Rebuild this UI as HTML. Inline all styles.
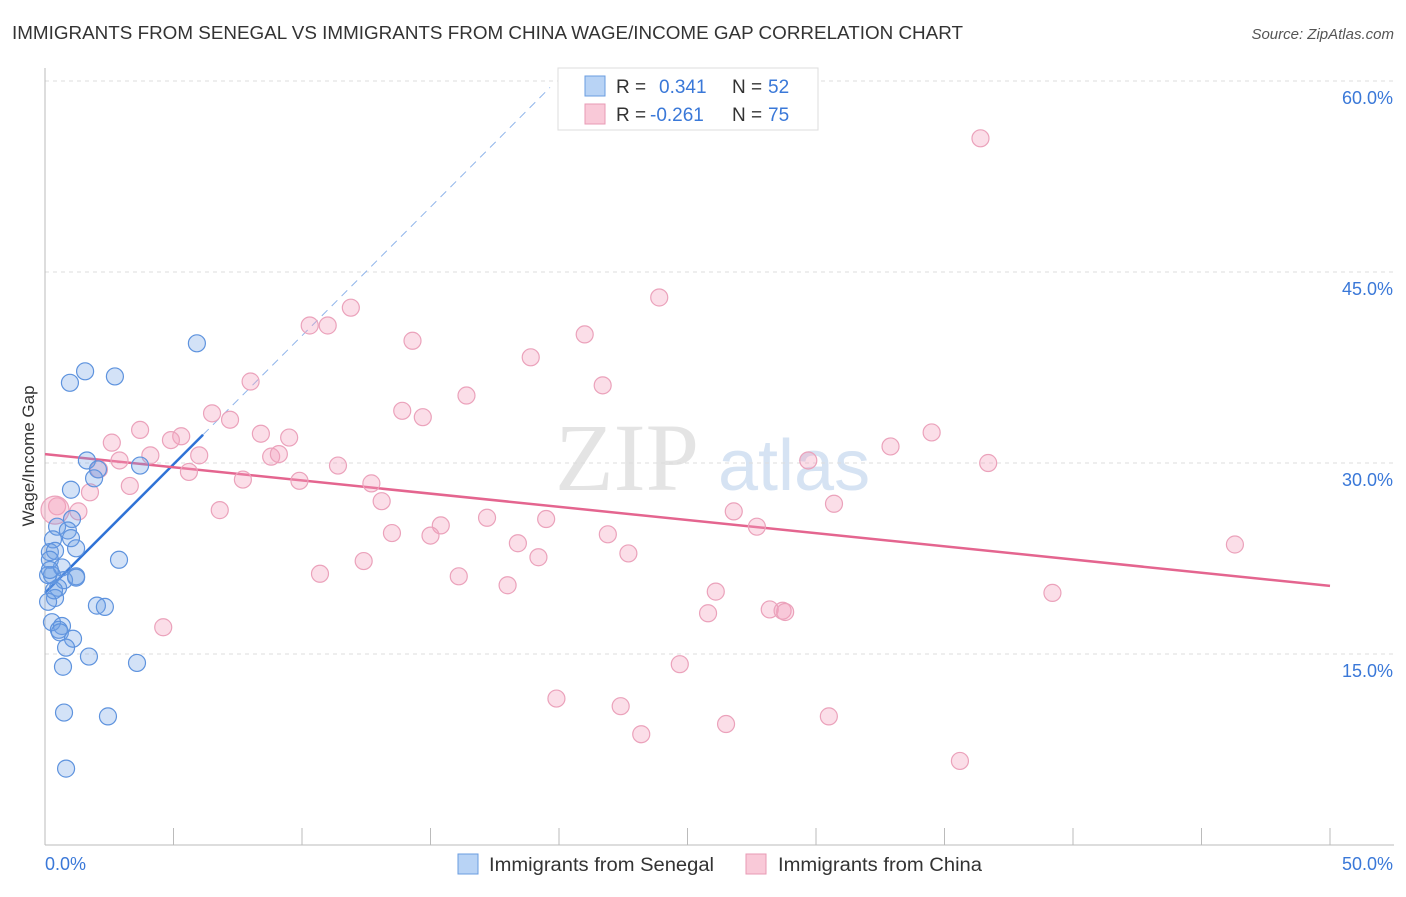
<!DOCTYPE html>
<html><head><meta charset="utf-8">
<style>
html,body{margin:0;padding:0;background:#fff;}
body{width:1406px;height:892px;overflow:hidden;font-family:"Liberation Sans",sans-serif;}
</style></head>
<body>
<svg id="chart" width="1406" height="892" xmlns="http://www.w3.org/2000/svg" font-family="Liberation Sans, sans-serif">
<text x="12" y="39" font-size="18" fill="#333" textLength="951" lengthAdjust="spacingAndGlyphs">IMMIGRANTS FROM SENEGAL VS IMMIGRANTS FROM CHINA WAGE/INCOME GAP CORRELATION CHART</text>
<text x="1394" y="39" font-size="15" fill="#555" text-anchor="end" font-style="italic">Source: ZipAtlas.com</text>
<text x="555" y="490" font-size="96" fill="#e4e4e4" font-family="Liberation Serif, serif">ZIP</text>
<text x="718" y="490" font-size="72" fill="#d6e3f3">atlas</text>
<text transform="translate(34,456) rotate(-90)" font-size="17" fill="#333" text-anchor="middle">Wage/Income Gap</text>
<g id="grid"></g>
<g id="axes"></g>
<g id="lines"></g>
<g id="points"></g>
<g>
 <rect x="558" y="68" width="260" height="62" fill="#fff" stroke="#ddd"/>
 <rect x="585" y="76" width="20" height="20" fill="#b8d3f5" stroke="#6a9de0"/>
 <rect x="585" y="104" width="20" height="20" fill="#f9c9d8" stroke="#e89ab4"/>
 <text x="616" y="93" font-size="19" fill="#333">R = </text><text x="659" y="93" font-size="19" fill="#3a78d8">0.341</text>
 <text x="732" y="93" font-size="19" fill="#333">N = </text><text x="768" y="93" font-size="19" fill="#3a78d8">52</text>
 <text x="616" y="121" font-size="19" fill="#333">R = </text><text x="650" y="121" font-size="19" fill="#3a78d8">-0.261</text>
 <text x="732" y="121" font-size="19" fill="#333">N = </text><text x="768" y="121" font-size="19" fill="#3a78d8">75</text>
</g>
<g>
 <rect x="458" y="854" width="20" height="20" fill="#b8d3f5" stroke="#6a9de0"/>
 <text x="489" y="871" font-size="19" fill="#333" textLength="225" lengthAdjust="spacingAndGlyphs">Immigrants from Senegal</text>
 <rect x="746" y="854" width="20" height="20" fill="#f9c9d8" stroke="#e89ab4"/>
 <text x="778" y="871" font-size="19" fill="#333" textLength="204" lengthAdjust="spacingAndGlyphs">Immigrants from China</text>
</g>
</svg>
<script>
const yTicks=[15,30,45,60];
const yTickLabels=["15.0%","30.0%","45.0%","60.0%"];
const xTickLabels=["0.0%","50.0%"];
const senegalX=[5.91,1.56,2.72,0.97,1.63,3.70,2.06,1.91,1.01,1.05,0.47,0.89,1.01,0.31,1.21,0.19,0.39,0.19,2.88,0.66,0.27,1.21,0.74,1.21,0.51,0.39,0.12,2.02,2.33,0.27,0.66,0.54,0.58,1.09,0.82,1.71,3.58,0.70,0.74,2.45,0.82,0.12,0.19,0.35];
const senegalY=[39.4,37.2,36.8,36.3,30.2,29.8,29.5,28.8,27.9,25.6,25.0,24.7,24.1,24.0,23.3,23.0,23.1,22.4,22.4,21.8,21.2,21.1,20.8,21.0,20.2,19.4,19.1,18.8,18.7,17.5,17.2,16.9,16.7,16.2,15.5,14.8,14.3,14.0,10.4,10.1,6.0,21.2,21.6,20.0];
const chinaX=[36.4,23.9,11.9,10.3,11.0,14.3,21.0,18.9,8.0,21.7,16.4,13.9,14.7,6.5,7.2,3.7,5.3,4.9,8.4,9.5,2.6,34.5,32.9,2.9,4.1,6.0,8.8,9.1,11.4,29.7,36.7,5.6,2.1,3.3,7.7,9.9,12.7,1.75,13.1,0.47,1.3,6.8,26.8,30.7,17.2,19.5,15.4,13.5,15.0,21.9,27.7,18.4,19.2,22.7,46.3,12.4,10.7,16.1,18.0,26.1,39.2,25.8,28.2,28.7,28.8,4.6,24.7,19.9,22.4,26.5,30.5,23.2,35.6];
const chinaY=[55.5,43.0,42.2,40.8,40.8,39.6,40.1,38.3,36.4,36.1,35.3,34.1,33.6,33.9,33.4,32.6,32.1,31.8,32.3,32.0,31.6,32.4,31.3,30.2,30.6,30.6,30.5,30.7,29.8,30.2,30.0,29.3,29.5,28.2,28.7,28.6,28.4,27.7,27.0,26.6,26.2,26.3,26.2,26.8,25.7,25.6,25.1,24.5,24.3,24.4,25.0,23.7,22.6,22.9,23.6,22.3,21.3,21.1,20.4,19.9,19.8,18.2,18.5,18.4,18.3,17.1,14.2,11.5,10.9,9.5,10.1,8.7,6.6];
const bigChina=[[0.39,26.3]];
const senegalTrend=[19.8,2.02]; // intercept, slope
const chinaTrend=[30.7,-0.207];

const X=v=>45+v*25.7;
const Y=v=>845-v*12.733;
const NS="http://www.w3.org/2000/svg";
function mk(tag,attrs,parent){const e=document.createElementNS(NS,tag);for(const k in attrs)e.setAttribute(k,attrs[k]);parent.appendChild(e);return e;}
const grid=document.getElementById('grid'),axes=document.getElementById('axes'),lines=document.getElementById('lines'),pts=document.getElementById('points');
yTicks.forEach((t,i)=>{
 const l=mk('line',{x1:45,x2:1394,y1:Y(t),y2:Y(t),stroke:'#ddd','stroke-dasharray':'4,4'},grid);
 
 
 const tx=mk('text',{x:1393,y:Y(t)+23,'font-size':18,fill:'#3a78d8','text-anchor':'end'},axes);
 tx.textContent=yTickLabels[i];
 
 
});
const ax=mk('line',{x1:45,x2:1394,y1:845,y2:845,stroke:'#bbb'},axes);


const ay=mk('line',{x1:45,x2:45,y1:68,y2:845,stroke:'#bbb'},axes);


for(let i=0;i<=10;i++){
 const t=mk('line',{x1:X(i*5),x2:X(i*5),y1:828,y2:845,stroke:'#bbb'},axes);
 
 
}
const xl0=mk('text',{x:45,y:870,'font-size':18,fill:'#3a78d8'},axes);xl0.textContent=xTickLabels[0];


const xl1=mk('text',{x:1393,y:870,'font-size':18,fill:'#3a78d8','text-anchor':'end'},axes);xl1.textContent=xTickLabels[1];



chinaX.forEach((x,i)=>{
 const c=mk('circle',{cx:X(x),cy:Y(chinaY[i]),r:8.5,fill:'rgba(244,160,188,0.35)',stroke:'#eba2bb','stroke-width':1.2},pts);
 
 
});
bigChina.forEach(p=>{
 const c=mk('circle',{cx:X(p[0]),cy:Y(p[1]),r:14,fill:'rgba(244,160,188,0.4)',stroke:'#eba2bb','stroke-width':1.2},pts);
 
 
});
senegalX.forEach((x,i)=>{
 const c=mk('circle',{cx:X(x),cy:Y(senegalY[i]),r:8.5,fill:'rgba(110,160,230,0.3)',stroke:'#5e93de','stroke-width':1.2},pts);
 
 
});
const sf=v=>senegalTrend[0]+senegalTrend[1]*v;
const s1=mk('line',{x1:X(0),y1:Y(sf(0)),x2:X(6.15),y2:Y(sf(6.15)),stroke:'#2f72d6','stroke-width':2.5},lines);


const xEnd=19.65;
const s2=mk('line',{x1:X(6.15),y1:Y(sf(6.15)),x2:X(xEnd),y2:Y(sf(xEnd)),stroke:'#8fb4ea','stroke-width':1,'stroke-dasharray':'8,6'},lines);


const cf=v=>chinaTrend[0]+chinaTrend[1]*v;
const c1=mk('line',{x1:X(0),y1:Y(cf(0)),x2:X(50),y2:Y(cf(50)),stroke:'#e4658f','stroke-width':2.5},lines);


</script>
</body></html>
